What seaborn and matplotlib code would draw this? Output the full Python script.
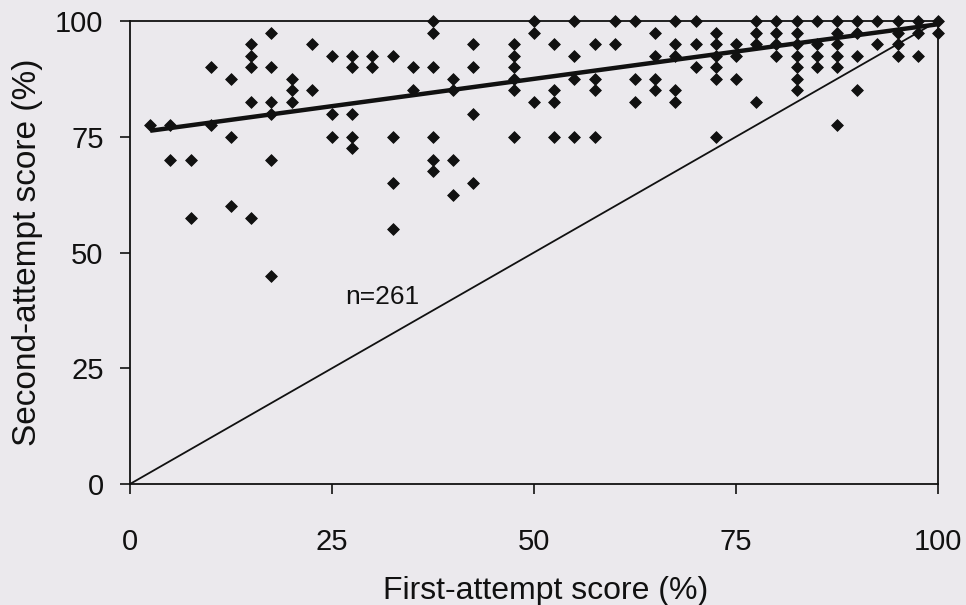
import matplotlib
matplotlib.use("Agg")
import matplotlib.pyplot as plt
import seaborn as sns
import pandas as pd

# ---- data ----
first_attempt = (
    [2.5] + [5] * 2 + [7.5] * 2 + [10] * 2 + [12.5] * 3 + [15] * 5 + [17.5] * 6 +
    [20] * 3 + [22.5] * 2 + [25] * 3 + [27.5] * 5 + [30] * 2 + [32.5] * 4 +
    [35] * 2 + [37.5] * 6 + [40] * 4 + [42.5] * 4 + [47.5] * 6 + [50] * 3 +
    [52.5] * 4 + [55] * 4 + [57.5] * 4 + [60] * 2 + [62.5] * 3 + [65] * 4 +
    [67.5] * 5 + [70] * 3 + [72.5] * 6 + [75] * 3 + [77.5] * 4 + [80] * 4 +
    [82.5] * 7 + [85] * 4 + [87.5] * 6 + [90] * 4 + [92.5] * 2 + [95] * 4 +
    [97.5] * 3 + [100] * 2
)
second_attempt = [
    77.5,
    77.5, 70,
    70, 57.5,
    90, 77.5,
    87.5, 75, 60,
    95, 92.5, 90, 82.5, 57.5,
    97.5, 90, 82.5, 80, 70, 45,
    87.5, 85, 82.5,
    95, 85,
    92.5, 80, 75,
    92.5, 90, 80, 75, 72.5,
    92.5, 90,
    92.5, 75, 65, 55,
    90, 85,
    100, 97.5, 90, 75, 70, 67.5,
    87.5, 85, 70, 62.5,
    95, 90, 80, 65,
    95, 92.5, 90, 87.5, 85, 75,
    100, 97.5, 82.5,
    95, 85, 82.5, 75,
    100, 92.5, 87.5, 75,
    95, 87.5, 85, 75,
    100, 95,
    100, 87.5, 82.5,
    97.5, 92.5, 87.5, 85,
    100, 95, 92.5, 85, 82.5,
    100, 95, 90,
    97.5, 95, 92.5, 90, 87.5, 75,
    95, 92.5, 87.5,
    100, 97.5, 95, 82.5,
    100, 97.5, 95, 92.5,
    100, 97.5, 95, 92.5, 90, 87.5, 85,
    100, 95, 92.5, 90,
    100, 97.5, 95, 92.5, 90, 77.5,
    100, 97.5, 92.5, 85,
    100, 95,
    100, 97.5, 95, 92.5,
    100, 97.5, 92.5,
    100, 97.5,
]
trend_x = [2.5, 100]
trend_y = [76.3, 99.3]
equal_x = [0, 100]
equal_y = [0, 100]
tick_values = [0, 25, 50, 75, 100]
x_label = "First-attempt score (%)"
y_label = "Second-attempt score (%)"
note_text = "n=261"

df = pd.DataFrame({"first": first_attempt, "second": second_attempt})

bg = "#ebe9ed"
sns.set_style("white", {"axes.facecolor": bg, "figure.facecolor": bg})
plt.rcParams["font.family"] = ["Liberation Sans", "DejaVu Sans"]

fig = plt.figure(figsize=(9.66, 6.05), dpi=100)
ax = fig.add_axes([130 / 966, 1 - 484 / 605, 808 / 966, 463 / 605])

sns.lineplot(x=equal_x, y=equal_y, ax=ax, color="#111111", linewidth=1.3,
             zorder=2)
sns.lineplot(x=trend_x, y=trend_y, ax=ax, color="#111111", linewidth=3.2,
             zorder=4, solid_capstyle="butt")
sns.scatterplot(data=df, x="first", y="second", ax=ax, marker="D", s=36,
                color="#111111", edgecolor="#111111", linewidth=0.6,
                zorder=3, clip_on=False)

ax.text(26.6, 40.4, note_text, fontsize=19, va="center", ha="left",
        color="#111111")

ax.set_xlim(0, 100)
ax.set_ylim(0, 100)
ax.set_xticks(tick_values)
ax.set_yticks(tick_values)
ax.set_xticklabels([str(v) for v in tick_values])
ax.set_yticklabels([str(v) for v in tick_values])
ax.tick_params(axis="x", direction="out", length=7, width=1.2, pad=25,
               labelsize=21, colors="#111111", bottom=True, top=False)
ax.tick_params(axis="y", direction="out", length=7, width=1.2, pad=12,
               labelsize=21, colors="#111111", left=True, right=False)

for side in ["left", "bottom", "top", "right"]:
    ax.spines[side].set_visible(True)
    ax.spines[side].set_color("#111111")
    ax.spines[side].set_linewidth(1.3)

ax.set_xlabel(x_label, fontsize=23, color="#111111")
ax.set_ylabel(y_label, fontsize=24, color="#111111")
ax.xaxis.set_label_coords(0.515, -0.198)
ax.yaxis.set_label_coords(-0.108, 0.5)

fig.savefig("out.png", dpi=100, facecolor=bg)
